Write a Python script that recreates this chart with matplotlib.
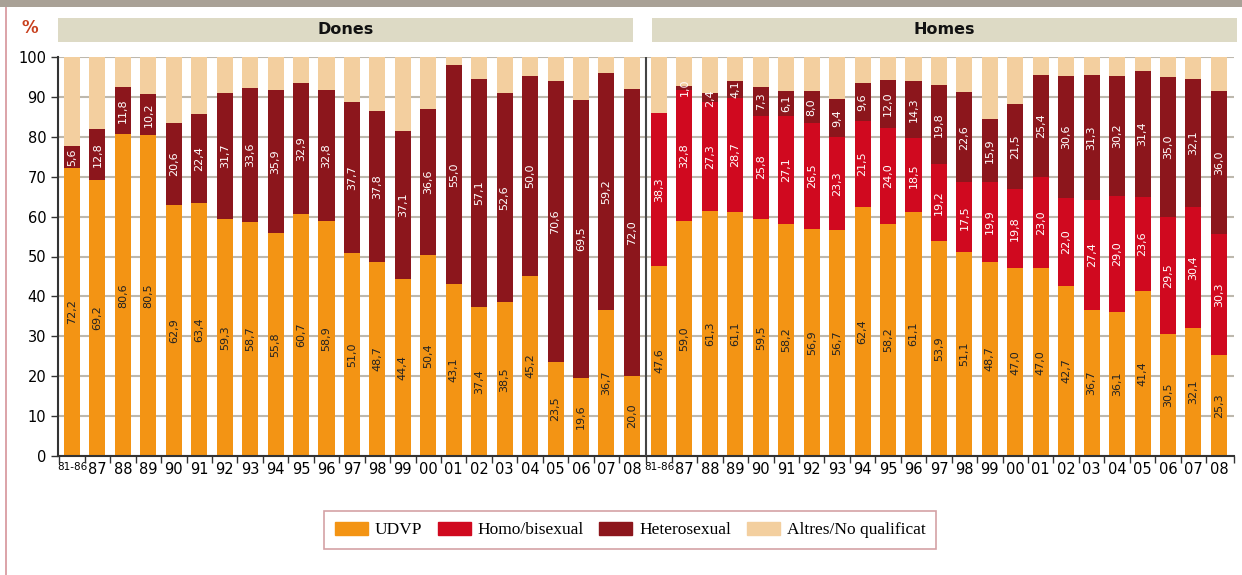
import matplotlib.pyplot as plt
from matplotlib.patches import Rectangle, Patch
import numpy as np

anys = ['81-86', '87', '88', '89', '90', '91', '92', '93', '94', '95', '96', '97',
        '98', '99', '00', '01', '02', '03', '04', '05', '06', '07', '08']

# Dones
dones_udvp = [72.2, 69.2, 80.6, 80.5, 62.9, 63.4, 59.3, 58.7, 55.8, 60.7, 58.9, 51.0,
              48.7, 44.4, 50.4, 43.1, 37.4, 38.5, 45.2, 23.5, 19.6, 36.7, 20.0]
dones_homo = [0.0] * 23
dones_hetero = [5.6, 12.8, 11.8, 10.2, 20.6, 22.4, 31.7, 33.6, 35.9, 32.9, 32.8, 37.7,
                37.8, 37.1, 36.6, 55.0, 57.1, 52.6, 50.0, 70.6, 69.5, 59.2, 72.0]

# Homes
homes_udvp = [47.6, 59.0, 61.3, 61.1, 59.5, 58.2, 56.9, 56.7, 62.4, 58.2, 61.1, 53.9,
              51.1, 48.7, 47.0, 47.0, 42.7, 36.7, 36.1, 41.4, 30.5, 32.1, 25.3]
homes_homo = [38.3, 32.8, 27.3, 28.7, 25.8, 27.1, 26.5, 23.3, 21.5, 24.0, 18.5, 19.2,
              17.5, 19.9, 19.8, 23.0, 22.0, 27.4, 29.0, 23.6, 29.5, 30.4, 30.3]
homes_hetero = [0.0, 1.0, 2.4, 4.1, 7.3, 6.1, 8.0, 9.4, 9.6, 12.0, 14.3, 19.8,
                22.6, 15.9, 21.5, 25.4, 30.6, 31.3, 30.2, 31.4, 35.0, 32.1, 36.0]

c_udvp = '#f39414'
c_homo = '#d0091f'
c_hetero = '#8c161c'
c_altres = '#f3cf9f'
c_grid = '#bdb8ad'

fig = plt.figure(figsize=(12.42, 5.75), dpi=100)
ax = fig.add_axes([58 / 1242, 1 - 456 / 575, (1234 - 58) / 1242, (456 - 57) / 575])

step = 25.45
x_d = np.arange(23)
x_h = np.arange(23) + (659 - 72) / step
w = 0.63


def draw(xs, udvp, homo, hetero, homo_labels):
    udvp = np.array(udvp)
    homo = np.array(homo)
    hetero = np.array(hetero)
    top = udvp + homo + hetero
    altres = 100 - top
    ax.bar(xs, udvp, w, color=c_udvp, zorder=2)
    ax.bar(xs, homo, w, bottom=udvp, color=c_homo, zorder=2)
    ax.bar(xs, hetero, w, bottom=udvp + homo, color=c_hetero, zorder=2)
    ax.bar(xs, altres, w, bottom=top, color=c_altres, zorder=2)
    for i, x in enumerate(xs):
        ax.text(x, udvp[i] / 2, f'{udvp[i]:.1f}'.replace('.', ','), rotation=90,
                ha='center', va='center', fontsize=8, color='#222222', zorder=3)
        if homo_labels:
            ax.text(x, udvp[i] + homo[i] / 2, f'{homo[i]:.1f}'.replace('.', ','), rotation=90,
                    ha='center', va='center', fontsize=8, color='white', zorder=3)
        if hetero[i] > 0:
            ax.text(x, udvp[i] + homo[i] + hetero[i] / 2, f'{hetero[i]:.1f}'.replace('.', ','),
                    rotation=90, ha='center', va='center', fontsize=8, color='white', zorder=3)


draw(x_d, dones_udvp, dones_homo, dones_hetero, False)
draw(x_h, homes_udvp, homes_homo, homes_hetero, True)

ax.set_xlim((58 - 72) / step, (1234 - 72) / step)
ax.set_ylim(0, 100)
ax.set_yticks(range(0, 101, 10))
ax.yaxis.grid(True, color=c_grid, lw=1.5, zorder=0)
ax.set_axisbelow(True)
ax.axvline((646 - 72) / step, color='#444444', lw=1.5, zorder=4)

ax.set_xticks(np.concatenate([x_d, x_h]))
ax.set_xticklabels(anys + anys, fontsize=10.5)
for lab in ax.get_xticklabels():
    if lab.get_text() == '81-86':
        lab.set_fontsize(7.5)
ax.tick_params(axis='x', length=0, pad=4)
bounds = list(x_d[1:] - 0.5) + [x_d[0] - 0.5, (646 - 72) / step] + list(x_h[1:] - 0.5) + [(1234 - 72) / step]
ax.set_xticks(bounds, minor=True)
ax.tick_params(axis='x', which='minor', length=5, width=1, color='#333333')
ax.tick_params(axis='y', labelsize=10.5, length=5, width=1, color='#333333')

for s in ['top', 'right']:
    ax.spines[s].set_visible(False)
ax.spines['left'].set_color('#333333')
ax.spines['left'].set_linewidth(1.5)
ax.spines['bottom'].set_color('#333333')
ax.spines['bottom'].set_linewidth(1.5)

# decoration: top band, left line, headers
fig.add_artist(Rectangle((0, 1 - 7 / 575), 1, 7 / 575, transform=fig.transFigure,
                         color='#a9a196', lw=0))
fig.add_artist(Rectangle((5 / 1242, 0), 2 / 1242, 1 - 7 / 575, transform=fig.transFigure,
                         color='#dca5aa', lw=0))
for x0, x1, name in [(58, 633, 'Dones'), (652, 1237, 'Homes')]:
    fig.add_artist(Rectangle((x0 / 1242, 1 - 42 / 575), (x1 - x0) / 1242, 24 / 575,
                             transform=fig.transFigure, color='#dddac5', lw=0))
    fig.text((x0 + x1) / 2 / 1242, 1 - 30 / 575, name, ha='center', va='center',
             fontsize=11.5, fontweight='bold', color='#111111')
fig.text(30 / 1242, 1 - 28 / 575, '%', ha='center', va='center', fontsize=12,
         fontweight='bold', color='#c8401e')

handles = [Patch(color=c_udvp), Patch(color=c_homo), Patch(color=c_hetero), Patch(color=c_altres)]
leg = fig.legend(handles, ['UDVP', 'Homo/bisexual', 'Heterosexual', 'Altres/No qualificat'],
                 loc='center', bbox_to_anchor=(630 / 1242, 1 - 530 / 575), ncol=4,
                 prop={'family': 'Liberation Serif', 'size': 12.5}, fancybox=False,
                 handlelength=1.9, handleheight=0.8, handletextpad=0.4, columnspacing=0.9,
                 borderpad=0.6)
leg.get_frame().set_edgecolor('#c98a8f')
leg.get_frame().set_linewidth(1.2)

fig.savefig('out.png', dpi=100)
